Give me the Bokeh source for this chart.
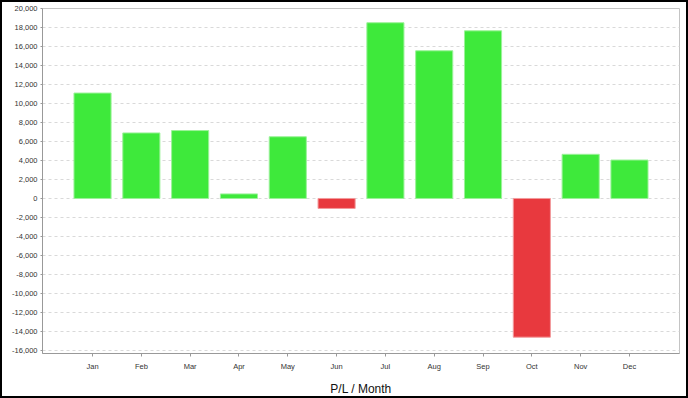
from bokeh.plotting import figure
from bokeh.models import ColumnDataSource, FactorRange, Range1d, FixedTicker, NumeralTickFormatter
from bokeh.embed import file_html
from bokeh.resources import INLINE

months = ["Jan", "Feb", "Mar", "Apr", "May", "Jun", "Jul", "Aug", "Sep", "Oct", "Nov", "Dec"]
pnl = [11100, 6900, 7150, 480, 6500, -1050, 18500, 15550, 17650, -14600, 4650, 4050]
y_ticks = list(range(-16000, 20001, 2000))

GREEN = "#3EE93B"
RED = "#E8393E"
GREEN_EDGE = "#9CF29A"
RED_EDGE = "#F29A9C"

fills = [GREEN if v >= 0 else RED for v in pnl]
edges = [GREEN_EDGE if v >= 0 else RED_EDGE for v in pnl]
src = ColumnDataSource(dict(month=months, pnl=pnl, fill=fills, edge=edges))

W, H = 688, 398
p = figure(
    width=W, height=H,
    x_range=FactorRange(factors=months, range_padding=0.525, range_padding_units="absolute"),
    y_range=Range1d(-16320, 20000),
    output_backend="svg", toolbar_location=None,
    min_border_left=42, min_border_right=9, min_border_top=8, min_border_bottom=45,
)
p.vbar(x="month", top="pnl", bottom=0, width=0.76, source=src,
       fill_color="fill", line_color="edge", line_width=1)

p.background_fill_color = "white"
p.border_fill_color = "white"
p.border_fill_alpha = 0
p.outline_line_color = "#c4c4c4"
p.outline_line_width = 1

# outer black border of the chart image
p.styles = {"outline": "2px solid black", "outline-offset": "-2px", "background-color": "white"}

# grid
p.xgrid.grid_line_color = None
p.ygrid.grid_line_color = "#d9d9d9"
p.ygrid.grid_line_dash = "3 3"
p.ygrid.grid_line_width = 1

# y axis
p.yaxis.ticker = FixedTicker(ticks=y_ticks)
p.yaxis.formatter = NumeralTickFormatter(format="0,0")
p.yaxis.axis_line_color = "#999999"
p.yaxis.major_tick_line_color = "#999999"
p.yaxis.major_tick_out = 2
p.yaxis.major_tick_in = 0
p.yaxis.minor_tick_line_color = None
p.yaxis.major_label_text_font = "Liberation Sans"
p.yaxis.major_label_text_font_size = "7.5px"
p.yaxis.major_label_text_color = "#333333"
p.yaxis.major_label_standoff = 3

# x axis
p.xaxis.axis_line_color = "#999999"
p.xaxis.major_tick_line_color = "#999999"
p.xaxis.major_tick_out = 3
p.xaxis.major_tick_in = 0
p.xaxis.major_label_text_font = "Liberation Sans"
p.xaxis.major_label_text_font_size = "7.5px"
p.xaxis.major_label_text_color = "#333333"
p.xaxis.major_label_standoff = 5
p.xaxis.axis_label = "P/L / Month"
p.xaxis.axis_label_text_font = "Liberation Sans"
p.xaxis.axis_label_text_font_size = "12px"
p.xaxis.axis_label_text_font_style = "normal"
p.xaxis.axis_label_text_color = "#111111"
p.xaxis.axis_label_standoff = 8

open("out.html", "w").write(file_html(p, INLINE))
